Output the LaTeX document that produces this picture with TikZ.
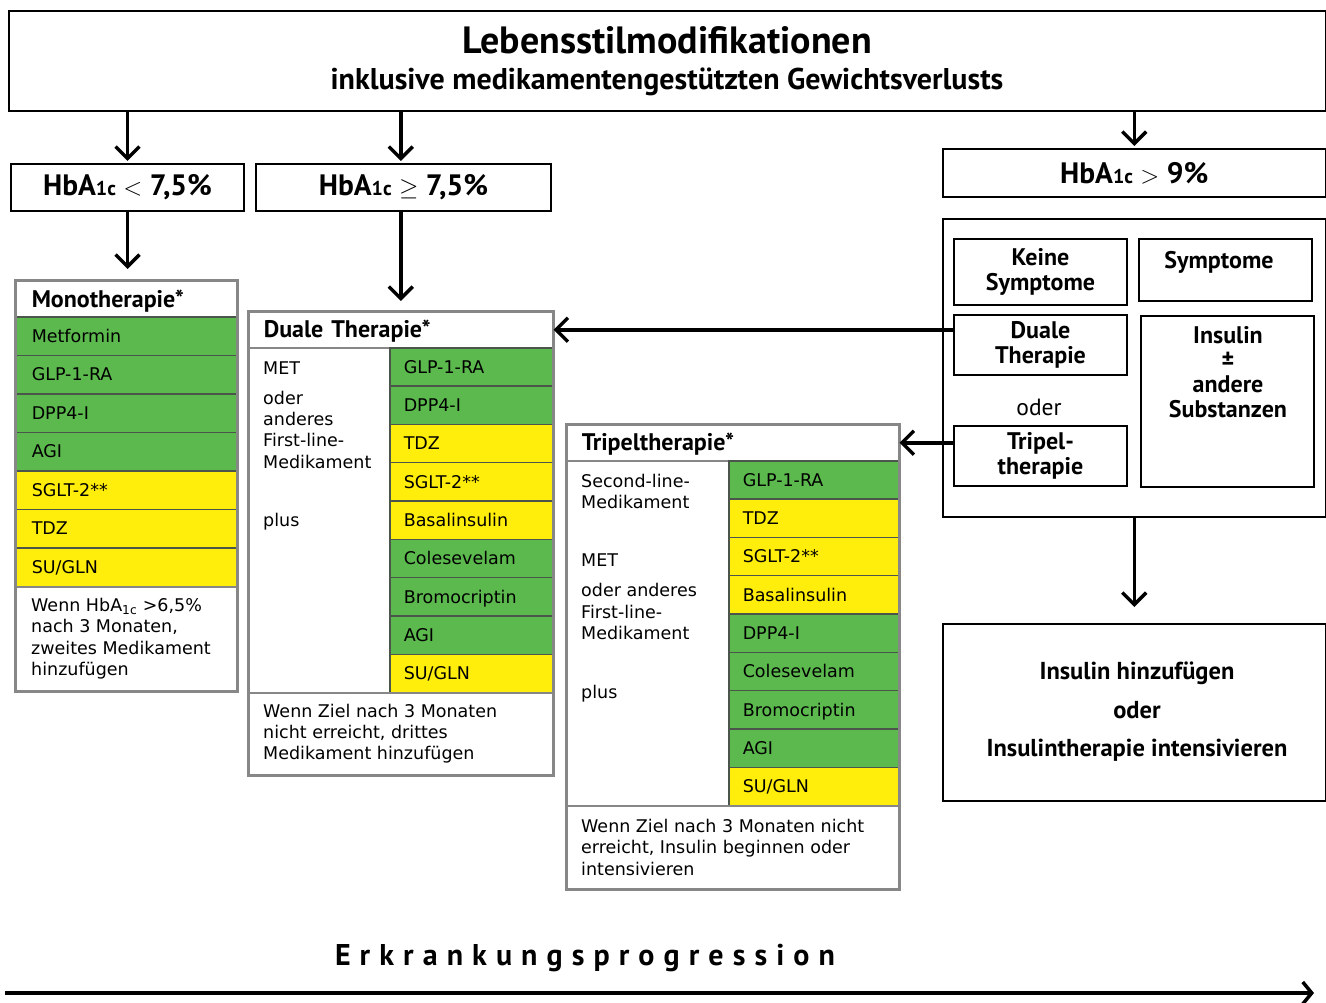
\documentclass[tikz,border=0pt]{standalone}
\usepackage{fontspec}
\setmainfont{DejaVu Sans}
\newfontfamily\headf{PT Sans}
\usetikzlibrary{arrows.meta}
\definecolor{medgreen}{RGB}{92,185,78}
\definecolor{medyellow}{RGB}{255,237,12}
\definecolor{tabgray}{RGB}{135,135,135}
\definecolor{sepgray}{RGB}{75,85,75}
\newcommand\sugln{SU/GLN}
\newcommand\hba[1]{HbA{\fontsize{#1}{#1}\selectfont 1c}}
\newcommand\bodyf{\fontsize{17.5}{21.3}\selectfont}
\begin{document}
\begin{tikzpicture}[x=1pt,y=-1pt,
  every node/.style={inner sep=0pt},
  frame/.style={draw=black, line width=2pt, fill=white, anchor=north west},
  conn/.style={line width=3.5pt, -{Straight Barb[length=12pt,width=24pt,line width=3.5pt]}},
  hb/.style={font=\headf\bfseries\fontsize{29.5}{32}\selectfont},
  rb/.style={font=\headf\bfseries\fontsize{24}{25}\selectfont, align=center},
  hdr/.style={anchor=north west, fill=white, draw=tabgray, line width=1.5pt, align=left, text height=15.5pt, text depth=0pt, font=\headf\bfseries\fontsize{24}{26}\selectfont},
  cell/.style={anchor=north west, draw=sepgray, line width=1.5pt, align=left, text height=12.5pt, text depth=0pt, inner xsep=14pt, font=\bodyf},
  plain/.style={anchor=north west, fill=white, draw=tabgray, line width=1.5pt},
  ltext/.style={anchor=west, text height=12pt, text depth=0pt, font=\bodyf},
  note/.style={anchor=west, align=left, font=\bodyf},
]
\path[use as bounding box, fill=white] (0,0) rectangle (1326,1003);

% top box
\node[frame, minimum width=1316.5pt, minimum height=100pt] (top) at (8,10) {};
\node[font=\headf\bfseries\fontsize{38}{42}\selectfont] (title) at (667,40) {Lebensstilmodifikationen};
\node[font=\headf\bfseries\fontsize{30}{34}\selectfont] (subtitle) at (667,82) {inklusive medikamentengestützten Gewichtsverlusts};

% HbA1c boxes
\node[frame, hb, minimum width=233pt, minimum height=47pt] (lt) at (10,163) {\hba{20} $<$ 7,5\%};
\node[frame, hb, minimum width=295pt, minimum height=47pt] (ge) at (255,163) {\hba{20} $\geq$ 7,5\%};
\node[frame, hb, minimum width=382.5pt, minimum height=48pt] (gt) at (942,148) {\hba{20} $>$ 9\%};

% Monotherapie
\node[hdr, minimum width=221pt, minimum height=35pt, inner xsep=16pt, text width=189pt] (mh) at (15,281) {Monotherapie*};
\foreach \t/\c [count=\i] in {Metformin/medgreen, GLP-1-RA/medgreen, DPP4-I/medgreen, AGI/medgreen, SGLT-2**/medyellow, TDZ/medyellow, \sugln/medyellow}
  \node[cell, fill=\c, inner xsep=16pt, text width=189pt, minimum height=38.5pt] (m\i) at (15,{316+(\i-1)*38.5}) {\t};
\node[plain, minimum width=221pt, minimum height=104pt] (mn) at (15,586) {};
\node[note] (mnt) at ([xshift=16pt]mn.west) {Wenn HbA\textsubscript{1c} >6,5\%\\nach 3 Monaten,\\zweites Medikament\\hinzufügen};
\draw[tabgray, line width=3pt] (mh.north west) rectangle (mn.south east);

% Duale Therapie
\node[hdr, minimum width=304pt, minimum height=36pt, inner xsep=15pt, text width=274pt] (dh) at (248,311) {Duale Therapie*};
\node[plain, minimum width=141pt, minimum height=345pt] (dl) at (248,347) {};
\foreach \t/\c [count=\i] in {GLP-1-RA/medgreen, DPP4-I/medgreen, TDZ/medyellow, SGLT-2**/medyellow, Basalinsulin/medyellow, Colesevelam/medgreen, Bromocriptin/medgreen, AGI/medgreen, \sugln/medyellow}
  \node[cell, fill=\c, text width=135pt, minimum height=38.33pt] (d\i) at (389,{347+(\i-1)*38.33}) {\t};
\foreach \t/\y [count=\i] in {MET/368, oder/398, anderes/419, First-line-/440, Medikament/462, plus/520}
  \node[ltext] (dlt\i) at (263,\y) {\t};
\node[plain, minimum width=304pt, minimum height=82pt] (dn) at (248,692) {};
\node[note] (dnt) at ([xshift=15pt]dn.west) {Wenn Ziel nach 3 Monaten\\nicht erreicht, drittes\\Medikament hinzufügen};
\draw[tabgray, line width=3pt] (dh.north west) rectangle (dn.south east);

% Tripeltherapie
\node[hdr, minimum width=332pt, minimum height=36pt, inner xsep=15pt, text width=302pt] (th) at (566,424) {Tripeltherapie*};
\node[plain, minimum width=162pt, minimum height=345pt] (tl) at (566,460) {};
\foreach \t/\c [count=\i] in {GLP-1-RA/medgreen, TDZ/medyellow, SGLT-2**/medyellow, Basalinsulin/medyellow, DPP4-I/medgreen, Colesevelam/medgreen, Bromocriptin/medgreen, AGI/medgreen, \sugln/medyellow}
  \node[cell, fill=\c, text width=142pt, minimum height=38.33pt] (t\i) at (728,{460+(\i-1)*38.33}) {\t};
\foreach \t/\y [count=\i] in {Second-line-/481, Medikament/502, MET/560, oder anderes/590, First-line-/612, Medikament/633, plus/692}
  \node[ltext] (tlt\i) at (581,\y) {\t};
\node[plain, minimum width=332pt, minimum height=83pt] (tn) at (566,805) {};
\node[note] (tnt) at ([xshift=15pt]tn.west) {Wenn Ziel nach 3 Monaten nicht\\erreicht, Insulin beginnen oder\\intensivieren};
\draw[tabgray, line width=3pt] (th.north west) rectangle (tn.south east);

% right panel
\node[frame, minimum width=382.5pt, minimum height=298pt] (rbox) at (942,218) {};
\node[frame, rb, minimum width=173pt, minimum height=66pt] (ks) at (953,238) {Keine\\Symptome};
\node[frame, minimum width=173pt, minimum height=62pt] (sy) at (1138,238) {};
\node[rb] (syt) at (1219,262) {Symptome};
\node[frame, rb, minimum width=173pt, minimum height=60pt] (dt) at (953,314) {Duale\\Therapie};
\node[font=\headf\fontsize{23.5}{25}\selectfont] (oder) at (1039,407) {oder};
\node[frame, rb, minimum width=173pt, minimum height=60pt] (tt) at (953,425) {Tripel-\\therapie};
\node[frame, minimum width=173pt, minimum height=171pt] (ins) at (1140,315) {};
\node[rb, font=\headf\bfseries\fontsize{24}{24.5}\selectfont] (inst) at (1228,372) {Insulin\\±\\andere\\Substanzen};

% final box
\node[frame, minimum width=382.5pt, minimum height=177pt] (fin) at (942,623) {};
\node[font=\headf\bfseries\fontsize{24.5}{38.5}\selectfont, align=center] (fint) at (1137,712) {Insulin hinzufügen\\oder\\Insulintherapie intensivieren};

% connectors
\draw[conn, shorten >=2pt] (top.south -| lt.north) -- (lt.north);
\draw[conn, shorten >=2pt] (top.south -| dh.north) -- (dh.north |- ge.north);
\draw[conn, shorten >=2pt] (top.south -| gt.north) -- (gt.north);
\draw[conn, shorten >=12pt] (lt.south) -- (lt.south |- mh.north);
\draw[conn, shorten >=10pt] (dh.north |- ge.south) -- (dh.north);
\draw[conn] (dt.west |- dh.east) -- (dh.east);
\draw[conn] (tt.west |- th.east) -- (th.east);
\draw[conn, shorten >=16pt] (rbox.south) -- (rbox.south |- fin.north);

% progression
\node[font=\headf\bfseries\fontsize{30}{32}\selectfont] (prog) at (585,958) {\makebox[500pt][s]{E\hfill r\hfill k\hfill r\hfill a\hfill n\hfill k\hfill u\hfill n\hfill g\hfill s\hfill p\hfill r\hfill o\hfill g\hfill r\hfill e\hfill s\hfill s\hfill i\hfill o\hfill n}};
\coordinate (pa) at (5,993);
\coordinate (pb) at (1314,993);
\draw[line width=4pt, -{Straight Barb[length=9pt,width=22pt,line width=3.5pt]}] (pa) -- (pb);
\end{tikzpicture}
\end{document}
